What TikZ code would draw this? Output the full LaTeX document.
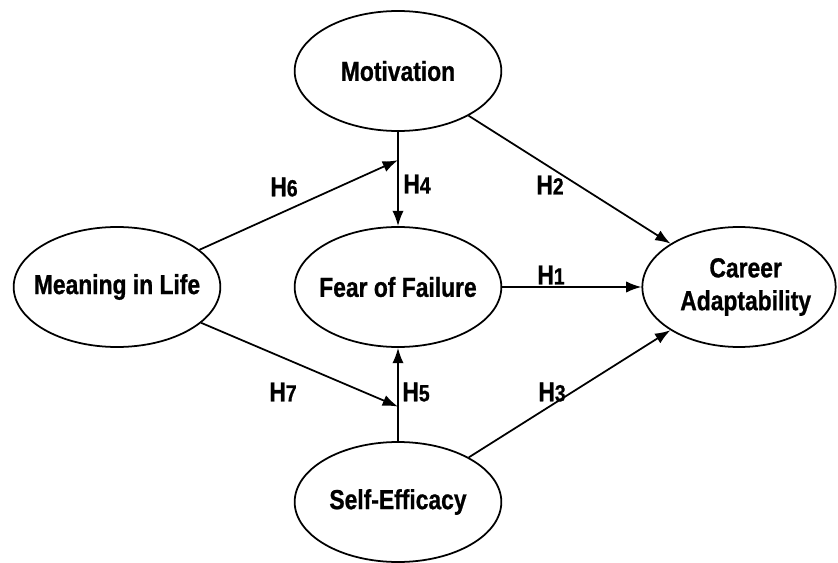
\documentclass[tikz,border=0pt]{standalone}
\usepackage{fontspec}
\setmainfont{Liberation Sans}[FakeStretch=0.83, BoldFeatures={FakeBold=0.8}]
\usetikzlibrary{shapes.geometric,arrows.meta,calc}
\newcommand{\hnum}[1]{H{\fontsize{20}{22}\selectfont #1}}

\begin{document}
\begin{tikzpicture}[
    x=0.03cm,
    y=-0.03cm,
    >={Latex[length=4.6mm,width=3.4mm]},
    font=\bfseries\fontsize{23.5}{28}\selectfont,
    construct/.style={
		ellipse,
		draw=black,
		line width=1.5pt,
		minimum width=62mm,
		minimum height=36mm,
		inner sep=0pt
	},
	link/.style={
		->,
		line width=1.5pt
	},
	hyp/.style={
		inner sep=0pt
	}
  ]

\useasboundingbox (0,0) rectangle (838,563);

% // constructs
\node [construct, label={center:Motivation}] (mot) at (398,71) {};
\node [construct, label={center:Meaning in Life}] (mil) at (117,287) {};
\node [construct, label={center:Fear of Failure}] (fof) at (398,287) {};
\node [construct, label={center:Self-Efficacy}] (ses) at (398,502) {};
\node [construct, minimum width=58mm,
  label={[align=center, xshift=0.2cm]center:Career\\Adaptability}] (car) at (739,287) {};

% // moderation points
\coordinate (j6) at ($(mot.south)!0.3!(fof.north)$);
\coordinate (j7) at ($(fof.south)!0.63!(ses.north)$);

% // paths
\draw [link] (fof) -- (car);
\draw [link] (mot) -- (car);
\draw [link] (ses) -- (car);
\draw [link] (mot) -- (fof);
\draw [link] (ses) -- (fof);
\draw [link] (mil) -- (j6);
\draw [link] (mil) -- (j7);

% // hypotheses
\node [hyp] (h1) at (551,275) {\hnum{1}};
\node [hyp] (h2) at (550,185) {\hnum{2}};
\node [hyp] (h3) at (552,392) {\hnum{3}};
\node [hyp] (h4) at (417,184) {\hnum{4}};
\node [hyp] (h5) at (416,392) {\hnum{5}};
\node [hyp] (h6) at (284,187) {\hnum{6}};
\node [hyp] (h7) at (283,392) {\hnum{7}};

\end{tikzpicture}
\end{document}
